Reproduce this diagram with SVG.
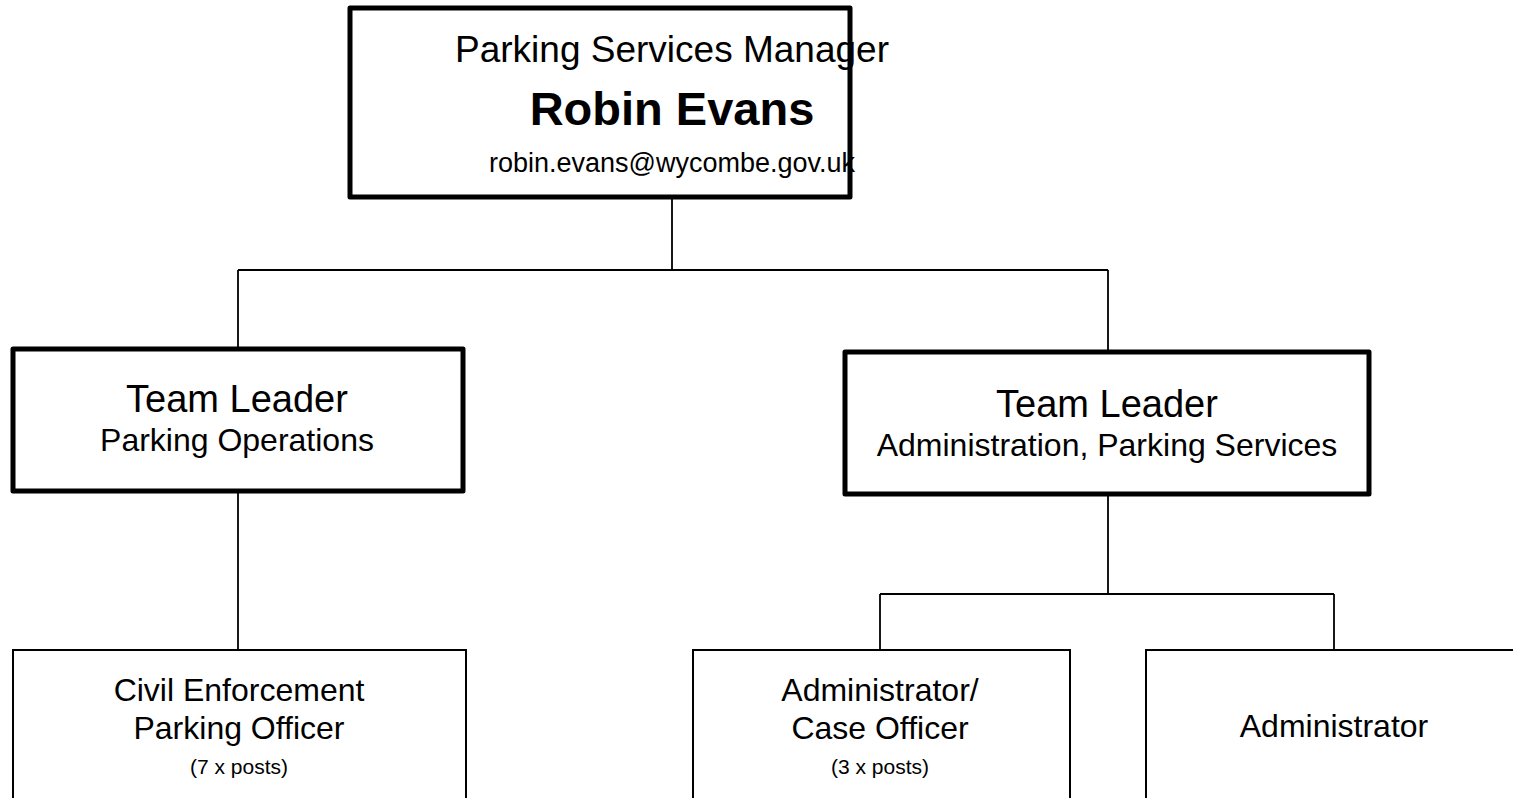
<svg xmlns="http://www.w3.org/2000/svg" width="1513" height="798" viewBox="0 0 1513 798">
<style>
.thick{fill:#fff;stroke:#000;stroke-width:5;stroke-linejoin:round}
.thin{fill:#fff;stroke:#000;stroke-width:2}
.conn{fill:none;stroke:#000;stroke-width:1.8}
text{font-family:"Liberation Sans",Arial,sans-serif;fill:#000;text-anchor:middle}
.t1{font-size:38px}
.t2{font-size:32px}
.t3{font-size:21px}
</style>
<rect width="1513" height="798" fill="#fff"/>
<g id="connectors">
<path class="conn" d="M672,198V270M238,270H1108M238,270V348M1108,270V352"/>
<path class="conn" d="M238,492V650"/>
<path class="conn" d="M1108,495V594M880,594H1334M880,594V650M1334,594V650"/>
</g>
<g id="manager">
<rect class="thick" x="350" y="8" width="500" height="189"/>
<text x="672" y="62" font-size="37">Parking Services Manager</text>
<text x="672" y="125" font-size="47" font-weight="bold">Robin Evans</text>
<text x="672" y="172" font-size="27">robin.evans@wycombe.gov.uk</text>
</g>
<g id="tl-ops">
<rect class="thick" x="13" y="349" width="450" height="142"/>
<text class="t1" x="237" y="412">Team Leader</text>
<text class="t2" x="237" y="451">Parking Operations</text>
</g>
<g id="tl-admin">
<rect class="thick" x="845" y="352" width="524" height="142"/>
<text class="t1" x="1107" y="417">Team Leader</text>
<text class="t2" x="1107" y="456">Administration, Parking Services</text>
</g>
<g id="ceo">
<rect class="thin" x="13" y="650" width="453" height="160"/>
<text class="t2" x="239" y="701">Civil Enforcement</text>
<text class="t2" x="239" y="739">Parking Officer</text>
<text class="t3" x="239" y="774">(7 x posts)</text>
</g>
<g id="case-officer">
<rect class="thin" x="693" y="650" width="377" height="160"/>
<text class="t2" x="880" y="701">Administrator/</text>
<text class="t2" x="880" y="739">Case Officer</text>
<text class="t3" x="880" y="774">(3 x posts)</text>
</g>
<g id="administrator">
<rect class="thin" x="1146" y="650" width="400" height="160"/>
<text class="t2" x="1334" y="737">Administrator</text>
</g>
</svg>
